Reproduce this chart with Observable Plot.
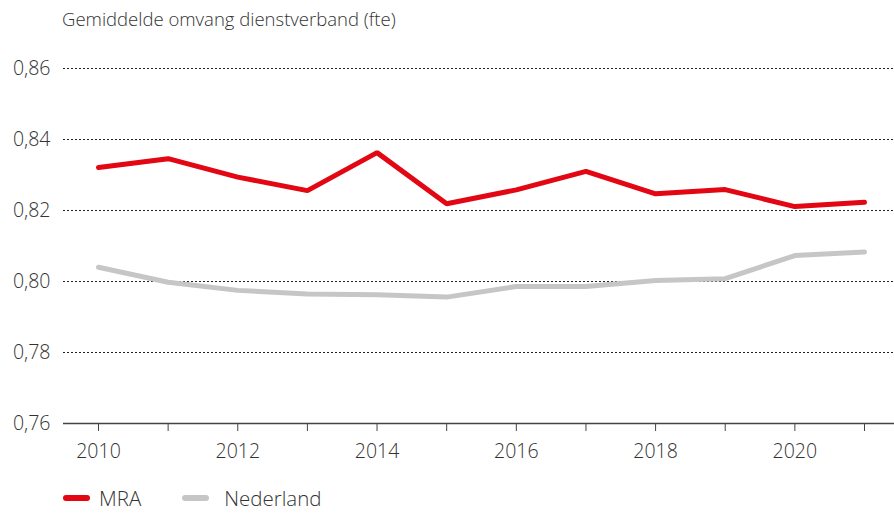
<!DOCTYPE html>
<html>
<head>
<meta charset="utf-8">
<script src="https://cdn.jsdelivr.net/npm/d3@7"></script>
<script src="https://cdn.jsdelivr.net/npm/@observablehq/plot@0.6"></script>
<style>
  html, body { margin: 0; padding: 0; background: #fff; }
  body { width: 894px; height: 513px; position: relative; overflow: hidden; font-family: "Open Sans", Lato, sans-serif; font-weight: 300; color: #333; }
  #title { position: absolute; left: 62px; top: 7px; font-size: 18.5px; line-height: 24px; color: #333; white-space: nowrap; }
  #chart { position: absolute; left: 0; top: 0; }
  #legend { position: absolute; left: 63px; top: 488px; height: 20px; font-size: 20.5px; color: #333; display: flex; align-items: center; white-space: nowrap; }
  .sw { display: inline-block; width: 27px; height: 6px; border-radius: 3px; }
  .lbl { display: inline-block; height: 20px; line-height: 20px; overflow: visible; }
  .item { display: flex; align-items: center; height: 20px; }
</style>
</head>
<body>
<div id="title">Gemiddelde omvang dienstverband (fte)</div>
<div id="chart"></div>
<div id="legend"></div>
<script>
const years = [2010, 2011, 2012, 2013, 2014, 2015, 2016, 2017, 2018, 2019, 2020, 2021];
const mra = [0.8321, 0.8346, 0.8294, 0.8256, 0.8363, 0.8219, 0.8258, 0.8310, 0.8247, 0.8259, 0.8211, 0.8223];
const nederland = [0.8040, 0.7998, 0.7975, 0.7965, 0.7963, 0.7956, 0.7986, 0.7986, 0.8003, 0.8008, 0.8073, 0.8083];
const seriesNames = ["MRA", "Nederland"];
const seriesColors = ["#e30613", "#c6c6c6"];
const yTicks = [0.76, 0.78, 0.80, 0.82, 0.84, 0.86];
const xLabelYears = [2010, 2012, 2014, 2016, 2018, 2020];

const data = [];
years.forEach((y, i) => {
  data.push({year: y, value: mra[i], series: seriesNames[0]});
  data.push({year: y, value: nederland[i], series: seriesNames[1]});
});

const fmt = d => d.toFixed(2).replace(".", ",");

const plot = Plot.plot({
  width: 894,
  height: 470,
  marginTop: 68,
  marginBottom: 47,
  marginLeft: 63,
  marginRight: 0,
  style: {fontFamily: "'Open Sans', Lato, sans-serif", fontWeight: 300, color: "#333", background: "transparent"},
  x: {type: "linear", domain: [2010, 2021], range: [98, 864]},
  y: {domain: [0.76, 0.86], range: [423, 68]},
  color: {domain: seriesNames, range: seriesColors},
  marks: [
    Plot.ruleY(yTicks.filter(d => d > 0.76), {stroke: "#222", strokeWidth: 1, strokeDasharray: "2,2"}),
    Plot.ruleY([0.76], {stroke: "#444", strokeWidth: 1.3}),
    Plot.axisY({ticks: yTicks, tickSize: 0, tickPadding: 13, tickFormat: fmt, fontSize: 19.5, label: null, fill: "#333"}),
    Plot.axisX({ticks: years, tickSize: 8, tickFormat: () => "", stroke: "#444", label: null}),
    Plot.axisX({ticks: xLabelYears, tickSize: 0, tickPadding: 21, tickFormat: d => String(d), fontSize: 19.5, label: null, fill: "#333"}),
    Plot.line(data, {x: "year", y: "value", z: "series", stroke: "series", strokeWidth: 5, strokeLinecap: "round", strokeLinejoin: "miter"})
  ]
});
document.getElementById("chart").appendChild(plot);

const legend = document.getElementById("legend");
const gaps = [[9, 41], [15, 0]];
seriesNames.forEach((n, i) => {
  const it = document.createElement("div");
  it.className = "item";
  it.style.marginRight = gaps[i][1] + "px";
  it.innerHTML = `<span class="sw" style="background:${seriesColors[i]};margin-right:${gaps[i][0]}px"></span><span class="lbl">${n}</span>`;
  legend.appendChild(it);
});
</script>
</body>
</html>
